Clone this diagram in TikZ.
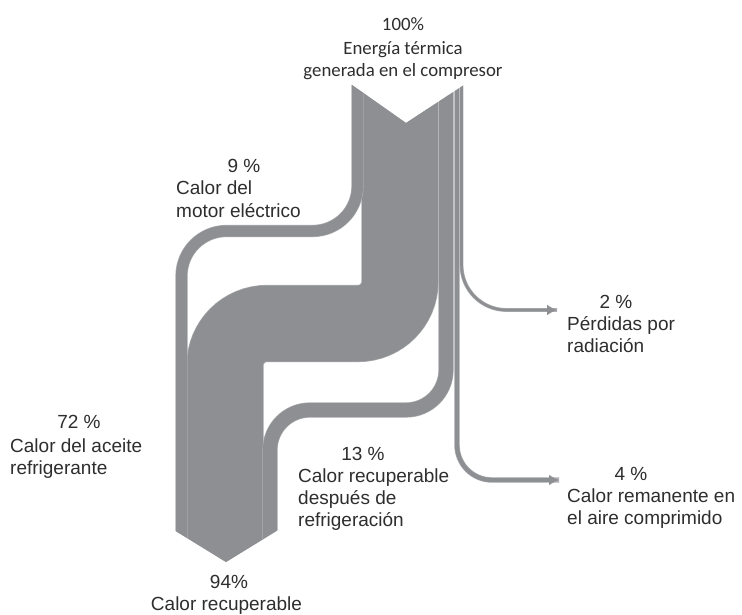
\documentclass[tikz,border=0pt]{standalone}
\usepackage{fontspec}
\setmainfont{Liberation Sans}
\newfontfamily\headfont{Carlito}
\usetikzlibrary{arrows.meta}

\definecolor{flowgray}{HTML}{8D8F92}
\definecolor{sepgray}{HTML}{ADAFB1}
\definecolor{inkgray}{HTML}{2E2E2E}

\tikzset{
  % one band of the heat flow, #1 = width in pt
  flow/.style={draw=flowgray, line width=#1pt,
    preaction={draw=sepgray, line width=#1pt+1.2pt, arrows=-}},
  tipstyle/.style={-{Latex[length=10pt,width=11pt]}},
  lbl/.style={font=\fontsize{19}{22}\selectfont, text=inkgray, inner sep=0pt},
  head/.style={font=\headfont\fontsize{18.8}{21.5}\selectfont, text=inkgray, inner sep=0pt}
}

\begin{document}
\begin{tikzpicture}[x=1pt, y=-1pt]
  \fill[white] (0,0) rectangle (742,615);
  \useasboundingbox (0,0) rectangle (742,615);

  \begin{scope}
    % notched top and pointed bottom of the flow column
    \clip (150,85) -- (352,85) -- (406,123) -- (464,85) -- (742,85)
      -- (742,500) -- (300,500) -- (300,516.5) -- (226,562)
      -- (152,516.5) -- (150,500) -- cycle;

    % 72 % oil cooler heat
    \draw[flow=76, rounded corners=42] (400,70) -- (400,323.5) -- (225,323.5) -- (225,580);
    % 9 % electric motor heat
    \draw[flow=11, rounded corners=45] (357.5,70) -- (357.5,231) -- (181.5,231) -- (181.5,580);
    % 13 % aftercooler heat
    \draw[flow=14, rounded corners=40] (446,70) -- (446,410) -- (270,410) -- (270,580);
    % 4 % remaining in compressed air
    \draw[flow=4.2, tipstyle, rounded corners=35] (457,70) -- (457,480) -- (559,480);
    % 2 % radiation losses
    \draw[flow=2.6, tipstyle, rounded corners=45] (461.5,70) -- (461.5,310) -- (557,310);
  \end{scope}

  % labels
  \node[head, anchor=base] (p100) at (403,30.5) {100\%};
  \node[head, anchor=base] (t100) at (403,55)
    {\begin{tabular}[t]{@{}c@{}}Energía térmica\\generada en el compresor\end{tabular}};

  \node[lbl, anchor=base] (p9) at (244,173) {9 \%};
  \node[lbl, anchor=base west] (t9) at (176,195)
    {\begin{tabular}[t]{@{}l@{}}Calor del\\motor eléctrico\end{tabular}};

  \node[lbl, anchor=base] (p72) at (79,428) {72 \%};
  \node[lbl, anchor=base west] (t72) at (10,452)
    {\begin{tabular}[t]{@{}l@{}}Calor del aceite\\refrigerante\end{tabular}};

  \node[lbl, anchor=base] (p13) at (363,460) {13 \%};
  \node[lbl, anchor=base west] (t13) at (298,482)
    {\begin{tabular}[t]{@{}l@{}}Calor recuperable\\después de\\refrigeración\end{tabular}};

  \node[lbl, anchor=base] (p2) at (616,308) {2 \%};
  \node[lbl, anchor=base west] (t2) at (567,330)
    {\begin{tabular}[t]{@{}l@{}}Pérdidas por\\radiación\end{tabular}};

  \node[lbl, anchor=base] (p4) at (631,480) {4 \%};
  \node[lbl, anchor=base west] (t4) at (567,502)
    {\begin{tabular}[t]{@{}l@{}}Calor remanente en\\el aire comprimido\end{tabular}};

  \node[lbl, anchor=base] (p94) at (229,588) {94\%};
  \node[lbl, anchor=base] (t94) at (226.5,610) {Calor recuperable};
\end{tikzpicture}
\end{document}
